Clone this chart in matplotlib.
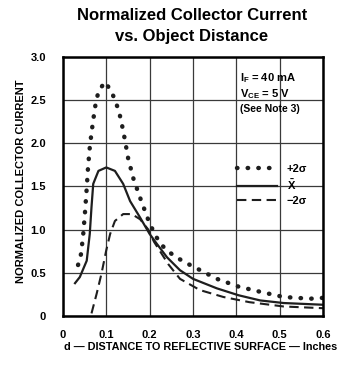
import numpy as np
import matplotlib.pyplot as plt
from matplotlib.lines import Line2D

# --------------------------------------
# Data
# --------------------------------------
# +2 sigma (dotted)
d_plus = [0.035, 0.042, 0.047, 0.051, 0.055, 0.058, 0.062, 0.066, 0.070, 0.075, 0.082,
          0.097, 0.112, 0.120, 0.128, 0.134, 0.143, 0.151, 0.157, 0.162, 0.178, 0.200,
          0.216, 0.232, 0.255, 0.282, 0.309, 0.355, 0.405, 0.455, 0.509, 0.570, 0.600]
i_plus = [0.59, 0.72, 0.95, 1.20, 1.48, 1.72, 1.95, 2.12, 2.27, 2.44, 2.60,
          2.71, 2.60, 2.50, 2.39, 2.27, 2.04, 1.81, 1.70, 1.60, 1.37, 1.07,
          0.91, 0.80, 0.70, 0.62, 0.55, 0.43, 0.34, 0.28, 0.22, 0.20, 0.21]

# mean (solid)
d_mean = [0.028, 0.039, 0.055, 0.062, 0.066, 0.070, 0.082, 0.100, 0.120, 0.139, 0.155,
          0.178, 0.200, 0.216, 0.240, 0.270, 0.300, 0.355, 0.405, 0.455, 0.509, 0.600]
i_mean = [0.38, 0.45, 0.64, 0.95, 1.26, 1.53, 1.68, 1.72, 1.68, 1.53, 1.33,
          1.14, 0.95, 0.84, 0.68, 0.53, 0.43, 0.32, 0.24, 0.18, 0.15, 0.13]

# -2 sigma (dashed)
d_minus = [0.066, 0.078, 0.089, 0.100, 0.109, 0.120, 0.139, 0.159, 0.178, 0.197, 0.210,
           0.243, 0.270, 0.316, 0.370, 0.430, 0.509, 0.600]
i_minus = [0.03, 0.26, 0.49, 0.76, 0.95, 1.10, 1.18, 1.18, 1.12, 1.00, 0.86,
           0.60, 0.43, 0.30, 0.22, 0.16, 0.11, 0.09]

x_ticks = [0, 0.1, 0.2, 0.3, 0.4, 0.5, 0.6]
x_labels = ["0", "0.1", "0.2", "0.3", "0.4", "0.5", "0.6"]
y_ticks = [0, 0.5, 1.0, 1.5, 2.0, 2.5, 3.0]
y_labels = ["0", "0.5", "1.0", "1.5", "2.0", "2.5", "3.0"]

# --------------------------------------
# Style
# --------------------------------------
plt.rcParams["font.family"] = ["Liberation Sans", "DejaVu Sans"]
plt.rcParams["font.weight"] = "bold"
plt.rcParams["axes.labelweight"] = "bold"
plt.rcParams["mathtext.default"] = "regular"
ink = "#1e1e1e"
dots = (0, (0.1, 2.3))
dashes = (0, (4.5, 2.6))

fig = plt.figure(figsize=(3.38, 3.67), dpi=100)
ax = fig.add_axes([0.186, 0.139, 0.770, 0.706])

ax.plot(d_plus, i_plus, color=ink, lw=3.2, linestyle=dots, dash_capstyle="round")
ax.plot(d_mean, i_mean, color=ink, lw=1.6)
ax.plot(d_minus, i_minus, color=ink, lw=1.5, linestyle=dashes)

ax.set_xlim(0, 0.6)
ax.set_ylim(0, 3.0)
ax.set_xticks(x_ticks)
ax.set_xticklabels(x_labels)
ax.set_yticks(y_ticks)
ax.set_yticklabels(y_labels)
ax.tick_params(axis="both", length=0, labelsize=8)
ax.tick_params(axis="x", pad=10)
ax.tick_params(axis="y", pad=12)
ax.grid(True, color="#3a3a3a", lw=0.9)
for s in ax.spines.values():
    s.set_linewidth(1.8)
    s.set_color("black")

ax.set_ylabel("NORMALIZED COLLECTOR CURRENT", fontsize=8)
ax.yaxis.set_label_coords(-0.14, 0.52)
ax.set_xlabel("d \u2014 DISTANCE TO REFLECTIVE SURFACE \u2014 Inches", fontsize=7.8)
ax.xaxis.set_label_coords(0.528, -0.10)

# conditions
ax.text(0.408, 2.75, "I$_{F}$ = 40 mA", fontsize=8, va="center", ha="left")
ax.text(0.408, 2.57, "V$_{CE}$ = 5 V", fontsize=8, va="center", ha="left")
ax.text(0.408, 2.40, "(See Note 3)", fontsize=7.5, va="center", ha="left")

handles = [
    Line2D([], [], color=ink, lw=3.2, linestyle=dots, dash_capstyle="round"),
    Line2D([], [], color=ink, lw=1.6),
    Line2D([], [], color=ink, lw=1.5, linestyle=dashes),
]
ax.legend(handles, ["+2\u03c3", "$\\bar{X}$", "\u22122\u03c3"], loc="upper left",
          bbox_to_anchor=(0.63, 0.625), frameon=False, fontsize=8,
          handlelength=3.6, handletextpad=0.9, labelspacing=0.35)

fig.text(0.568, 1 - 15.5 / 367, "Normalized Collector Current", ha="center", va="center",
         fontsize=12, fontweight="bold")
fig.text(0.568, 1 - 36 / 367, "vs. Object Distance", ha="center", va="center",
         fontsize=12, fontweight="bold")

fig.savefig("out.png", dpi=100)
